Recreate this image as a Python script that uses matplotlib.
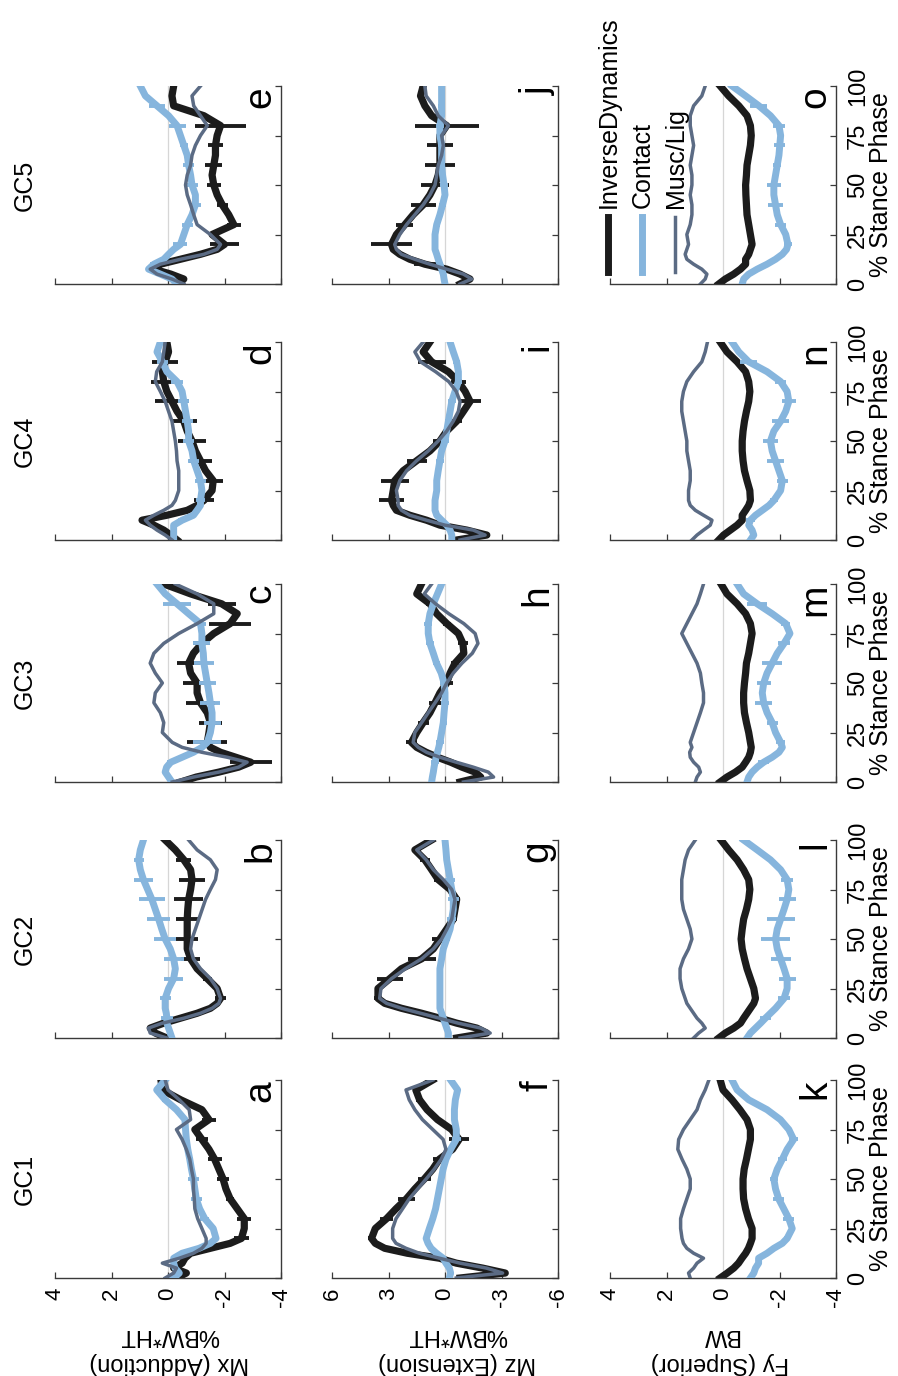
import matplotlib
matplotlib.use('Agg')
import matplotlib.pyplot as plt
from matplotlib.lines import Line2D

plt.rcParams['font.family'] = ['Liberation Sans', 'DejaVu Sans']
plt.rcParams['axes.unicode_minus'] = False

# ---------------- data ----------------
STANCE = [0, 2.5, 5, 7.5, 10, 12.5, 15, 17.5, 20, 25, 30, 35, 40, 45, 50,
          55, 60, 65, 70, 75, 80, 85, 90, 95, 100]
ERR_STANCE = [10, 20, 30, 40, 50, 60, 70, 80, 90]
GROUPS = ['GC1', 'GC2', 'GC3', 'GC4', 'GC5']
QUANTITIES = ['Mx', 'Mz', 'Fy']
QUANTITY_LABELS = ['Mx (Adduction)\n%BW*HT', 'Mz (Extension)\n%BW*HT', 'Fy (Superior)\nBW']
VALUE_TICKS_MX = [4, 2, 0, -2, -4]
VALUE_TICKS_MZ = [6, 3, 0, -3, -6]
VALUE_TICKS_FY = [4, 2, 0, -2, -4]
STANCE_TICKS = [0, 25, 50, 75, 100]
PANEL_LETTERS = {'Mx': ['a', 'b', 'c', 'd', 'e'],
                 'Mz': ['f', 'g', 'h', 'i', 'j'],
                 'Fy': ['k', 'l', 'm', 'n', 'o']}
LEGEND_LABELS = ['InverseDynamics', 'Contact', 'Musc/Lig']

# Mx (Adduction)
MX_GC1_ID = [-0.3, -0.65, -0.2, -0.5, -0.6, -0.8, -1.5, -2.2, -2.6, -2.7, -2.7, -2.45, -2.2, -2.05, -1.95, -1.8, -1.65, -1.45, -1.2, -0.95, -1.45, -1.2, -0.45, 0.2, 0.25]
MX_GC1_CON = [-0.2, -0.4, -0.25, -0.2, -0.2, -0.5, -1.1, -1.5, -1.7, -1.6, -1.3, -1.12, -1.0, -0.95, -0.9, -0.83, -0.77, -0.7, -0.65, -0.62, -0.6, -0.3, 0.1, 0.4, 0.1]
MX_GC1_MUS = [0.1, -0.2, -0.3, 0.2, -0.4, -0.9, -1.2, -1.35, -1.35, -1.2, -1.05, -0.95, -0.93, -0.9, -0.9, -0.83, -0.77, -0.65, -0.5, -0.3, -0.8, -0.75, -0.4, 0.0, 0.1]
MX_GC1_ID_ERR = [0.1, 0.25, 0.25, 0.15, 0.2, 0.25, 0.2, 0.25, 0.1]
MX_GC1_CON_ERR = [0.1, 0.1, 0.15, 0.2, 0.2, 0.1, 0.1, 0.1, 0.1]

MX_GC2_ID = [0.04, 0.45, 0.63, 0.15, -0.44, -1.03, -1.5, -1.74, -1.86, -1.74, -1.39, -1.03, -0.8, -0.68, -0.68, -0.68, -0.68, -0.7, -0.73, -0.8, -0.85, -0.8, -0.56, -0.26, 0.1]
MX_GC2_CON = [-0.14, -0.08, -0.02, 0.04, 0.04, 0.06, 0.1, 0.1, 0.1, -0.02, -0.2, -0.26, -0.2, -0.08, 0.1, 0.22, 0.33, 0.45, 0.57, 0.72, 0.87, 0.98, 1.04, 0.98, 0.87]
MX_GC2_MUS = [0.04, 0.63, 0.69, 0.2, -0.56, -1.15, -1.56, -1.8, -1.86, -1.74, -1.5, -1.15, -0.9, -0.8, -0.85, -0.97, -1.09, -1.21, -1.33, -1.5, -1.68, -1.74, -1.5, -1.03, -0.73]
MX_GC2_ID_ERR = [0.1, 0.2, 0.15, 0.35, 0.38, 0.38, 0.5, 0.45, 0.27]
MX_GC2_CON_ERR = [0.2, 0.2, 0.33, 0.35, 0.38, 0.4, 0.47, 0.35, 0.18]

MX_GC3_ID = [-0.45, -1.0, -1.8, -2.5, -2.93, -2.4, -1.86, -1.5, -1.39, -1.45, -1.5, -1.39, -1.15, -1.03, -1.03, -0.8, -0.73, -0.9, -1.2, -1.62, -2.2, -2.45, -1.9, -0.8, 0.15]
MX_GC3_CON = [-0.14, -0.02, 0.1, 0.05, -0.1, -0.5, -0.9, -1.2, -1.39, -1.5, -1.56, -1.56, -1.5, -1.45, -1.39, -1.33, -1.27, -1.25, -1.2, -1.2, -1.15, -0.73, -0.32, 0.1, 0.39]
MX_GC3_MUS = [-0.15, -0.9, -1.8, -2.5, -2.8, -2.1, -1.2, -0.5, -0.15, 0.2, 0.15, 0.27, 0.5, 0.45, 0.2, 0.45, 0.63, 0.5, 0.15, -0.38, -1.03, -1.62, -1.62, -1.03, -0.26]
MX_GC3_ID_ERR = [0.75, 0.7, 0.4, 0.5, 0.5, 0.4, 0.3, 0.75, 0.5]
MX_GC3_CON_ERR = [0.15, 0.5, 0.3, 0.35, 0.3, 0.35, 0.3, 0.2, 0.5]

MX_GC4_ID = [-0.32, -0.1, 0.15, 0.5, 0.92, 0.04, -0.68, -1.03, -1.27, -1.56, -1.6, -1.33, -1.15, -0.97, -0.85, -0.68, -0.56, -0.32, -0.14, 0.04, 0.15, 0.2, 0.1, -0.02, 0.04]
MX_GC4_CON = [-0.2, -0.2, -0.2, -0.2, -0.5, -0.9, -1.03, -1.15, -1.15, -1.2, -1.15, -1.03, -0.91, -0.85, -0.73, -0.73, -0.68, -0.62, -0.56, -0.5, -0.32, 0.04, 0.2, 0.39, 0.27]
MX_GC4_MUS = [-0.14, 0.1, 0.39, 0.63, 0.8, 0.5, 0.15, -0.14, -0.26, -0.38, -0.38, -0.38, -0.32, -0.3, -0.26, -0.2, -0.14, -0.02, 0.1, 0.27, 0.45, 0.4, 0.2, 0.15, 0.1]
MX_GC4_ID_ERR = [0.1, 0.35, 0.35, 0.4, 0.5, 0.45, 0.6, 0.45, 0.45]
MX_GC4_CON_ERR = [0.15, 0.15, 0.2, 0.2, 0.2, 0.2, 0.2, 0.2, 0.2]

MX_GC5_ID = [-0.38, -0.56, -0.1, 0.5, 0.27, -0.44, -1.15, -1.74, -2.0, -1.56, -2.33, -2.15, -1.92, -1.74, -1.62, -1.56, -1.62, -1.68, -1.68, -1.74, -1.86, -1.27, -0.2, -0.14, -0.2]
MX_GC5_CON = [-0.32, -0.14, 0.27, 0.69, 0.5, 0.15, -0.02, -0.2, -0.44, -0.56, -0.68, -0.85, -0.97, -0.97, -0.85, -0.8, -0.73, -0.68, -0.56, -0.44, -0.32, -0.02, 0.39, 0.8, 0.98]
MX_GC5_MUS = [-0.56, -0.14, 0.39, 0.63, 0.27, -0.44, -1.27, -1.74, -1.86, -1.5, -1.03, -0.91, -0.8, -0.68, -0.62, -0.68, -0.8, -0.85, -0.97, -1.15, -1.39, -1.15, -0.91, -0.85, -1.15]
MX_GC5_ID_ERR = [0.1, 0.5, 0.25, 0.2, 0.25, 0.3, 0.25, 0.9, 0.1]
MX_GC5_CON_ERR = [0.15, 0.25, 0.2, 0.2, 0.2, 0.2, 0.15, 0.3, 0.3]

# Mz (Extension)
MZ_GC1_ID = [-0.8, -3.2, -2.0, -0.6, 0.3, 2.0, 3.2, 3.7, 3.9, 3.7, 3.1, 2.6, 2.05, 1.6, 1.1, 0.65, 0.3, -0.4, -0.75, -0.35, 0.4, 0.95, 1.35, 1.55, 0.65]
MZ_GC1_CON = [-0.23, -0.3, -0.23, -0.05, 0.1, 0.45, 0.74, 0.9, 1.0, 0.83, 0.65, 0.5, 0.4, 0.3, 0.2, 0.1, -0.05, -0.3, -0.6, -0.6, -0.5, -0.5, -0.55, -0.67, -0.3]
MZ_GC1_MUS = [-0.6, -3.06, -2.2, -0.8, 0.3, 1.36, 2.07, 2.6, 2.78, 2.78, 2.6, 2.25, 1.9, 1.45, 1.0, 0.57, 0.2, -0.05, 0.1, 0.65, 1.2, 1.6, 1.9, 2.07, 0.65]
MZ_GC1_ID_ERR = [0.15, 0.2, 0.35, 0.45, 0.35, 0.35, 0.55, 0.15, 0.2]
MZ_GC1_CON_ERR = [0.1, 0.1, 0.1, 0.1, 0.1, 0.15, 0.25, 0.1, 0.1]

MZ_GC2_ID = [-0.62, -2.22, -1.69, -0.62, 0.27, 1.24, 2.31, 3.2, 3.56, 3.56, 2.93, 2.31, 1.24, 0.62, 0.27, -0.09, -0.44, -0.53, -0.62, -0.27, 0.36, 0.71, 1.07, 1.6, 0.71]
MZ_GC2_CON = [-0.18, -0.18, -0.09, 0.0, 0.09, 0.18, 0.27, 0.27, 0.27, 0.27, 0.27, 0.27, 0.18, 0.09, -0.09, -0.27, -0.36, -0.44, -0.44, -0.36, -0.27, -0.18, -0.09, -0.05, 0.0]
MZ_GC2_MUS = [-0.8, -2.4, -1.9, -0.7, 0.3, 1.3, 2.3, 3.1, 3.47, 3.4, 2.84, 2.1, 1.24, 0.62, 0.18, -0.1, -0.36, -0.44, -0.53, -0.36, 0.09, 0.62, 1.0, 1.5, 0.62]
MZ_GC2_ID_ERR = [0.2, 0.2, 0.7, 0.75, 0.4, 0.2, 0.2, 0.25, 0.25]
MZ_GC2_CON_ERR = [0.15, 0.15, 0.15, 0.15, 0.2, 0.25, 0.3, 0.25, 0.15]

MZ_GC3_ID = [-0.8, -1.9, -1.6, -0.9, -0.3, 0.4, 1.0, 1.5, 1.78, 1.5, 1.16, 0.8, 0.53, 0.27, -0.09, -0.27, -0.53, -1.0, -0.95, -0.71, -0.1, 0.44, 0.8, 1.5, 1.25]
MZ_GC3_CON = [0.71, 0.67, 0.62, 0.58, 0.53, 0.47, 0.4, 0.33, 0.27, 0.18, 0.09, 0.05, 0.0, 0.0, 0.05, 0.2, 0.45, 0.62, 0.8, 0.89, 0.89, 0.8, 0.62, 0.4, 0.18]
MZ_GC3_MUS = [-0.98, -2.58, -2.3, -1.5, -0.6, 0.27, 0.98, 1.42, 1.69, 1.6, 1.24, 0.89, 0.53, 0.18, -0.09, -0.44, -0.9, -1.45, -1.75, -1.6, -1.0, -0.2, 0.5, 1.1, 0.71]
MZ_GC3_ID_ERR = [0.3, 0.3, 0.3, 0.3, 0.35, 0.2, 0.25, 0.2, 0.2]
MZ_GC3_CON_ERR = [0.2, 0.2, 0.2, 0.2, 0.2, 0.2, 0.2, 0.2, 0.2]

MZ_GC4_ID = [-0.62, -2.22, -1.16, 0.27, 0.98, 1.87, 2.58, 2.75, 2.84, 2.75, 2.67, 2.22, 1.51, 0.8, 0.27, -0.09, -0.62, -0.98, -1.33, -1.07, -0.71, -0.18, 0.71, 1.16, 0.8]
MZ_GC4_CON = [-0.36, -0.36, -0.27, -0.09, 0.18, 0.44, 0.53, 0.53, 0.53, 0.44, 0.44, 0.36, 0.27, 0.18, 0.0, -0.09, -0.18, -0.27, -0.36, -0.53, -0.71, -0.71, -0.62, -0.44, -0.27]
MZ_GC4_MUS = [-0.8, -2.13, -1.5, 0.0, 0.98, 1.87, 2.31, 2.49, 2.49, 2.58, 2.4, 2.04, 1.51, 0.89, 0.36, -0.09, -0.44, -0.71, -0.8, -0.6, -0.2, 0.5, 1.3, 1.6, 1.16]
MZ_GC4_ID_ERR = [0.2, 0.67, 0.75, 0.53, 0.36, 0.3, 0.58, 0.4, 0.75]
MZ_GC4_CON_ERR = [0.15, 0.15, 0.15, 0.2, 0.2, 0.2, 0.2, 0.2, 0.2]

MZ_GC5_ID = [-0.8, -1.33, -0.8, -0.09, 1.07, 1.87, 2.4, 2.75, 2.84, 2.58, 2.13, 1.69, 1.16, 0.8, 0.53, 0.36, 0.27, 0.27, 0.27, 0.27, -0.09, 0.71, 1.07, 1.3, 1.16]
MZ_GC5_CON = [0.0, 0.05, 0.09, 0.18, 0.27, 0.36, 0.44, 0.53, 0.53, 0.53, 0.44, 0.27, 0.13, 0.0, 0.05, 0.13, 0.18, 0.18, 0.18, 0.27, 0.27, 0.18, 0.18, 0.18, 0.18]
MZ_GC5_MUS = [-0.8, -1.42, -0.98, -0.09, 0.8, 1.6, 2.31, 2.58, 2.67, 2.4, 2.04, 1.6, 1.16, 0.8, 0.53, 0.44, 0.36, 0.18, 0.09, 0.18, -0.18, 0.36, 0.62, 1.0, 1.07]
MZ_GC5_ID_ERR = [0.58, 1.07, 0.45, 0.67, 0.75, 0.8, 0.67, 1.7, 0.1]
MZ_GC5_CON_ERR = [0.15, 0.15, 0.15, 0.2, 0.2, 0.2, 0.2, 0.2, 0.2]

# Fy (Superior)
FY_GC1_ID = [0.1, -0.15, -0.38, -0.55, -0.67, -0.8, -0.9, -0.97, -1.03, -1.03, -0.9, -0.8, -0.73, -0.71, -0.71, -0.75, -0.83, -0.9, -0.97, -0.97, -0.85, -0.6, -0.32, 0.0, 0.1]
FY_GC1_CON = [-0.97, -1.09, -1.15, -1.26, -1.26, -1.56, -1.8, -2.1, -2.27, -2.45, -2.33, -2.15, -1.97, -1.86, -1.8, -1.92, -2.1, -2.27, -2.5, -2.33, -2.03, -1.56, -0.91, -0.5, -0.32]
FY_GC1_MUS = [1.16, 1.22, 1.04, 0.92, 0.69, 1.04, 1.28, 1.4, 1.45, 1.5, 1.5, 1.4, 1.28, 1.16, 1.16, 1.28, 1.45, 1.6, 1.57, 1.4, 1.16, 0.92, 0.8, 0.63, 0.5]
FY_GC1_CON_ERR = [0.1, 0.1, 0.2, 0.2, 0.15, 0.15, 0.15, 0.1, 0.1]

FY_GC2_ID = [0.15, -0.08, -0.38, -0.62, -0.73, -0.85, -0.97, -1.09, -1.15, -1.09, -0.97, -0.85, -0.76, -0.68, -0.64, -0.68, -0.73, -0.83, -0.91, -0.95, -0.91, -0.73, -0.5, -0.2, 0.07]
FY_GC2_CON = [-0.85, -0.97, -1.15, -1.33, -1.5, -1.68, -1.86, -2.01, -2.16, -2.27, -2.27, -2.16, -2.04, -1.92, -1.86, -1.92, -2.04, -2.16, -2.27, -2.33, -2.27, -2.04, -1.68, -1.21, -0.73]
FY_GC2_MUS = [1.04, 0.86, 0.63, 0.75, 0.92, 1.04, 1.16, 1.28, 1.34, 1.46, 1.52, 1.52, 1.4, 1.22, 1.1, 1.16, 1.28, 1.4, 1.46, 1.46, 1.46, 1.4, 1.34, 1.22, 0.98]
FY_GC2_CON_ERR = [0.2, 0.2, 0.3, 0.35, 0.5, 0.5, 0.3, 0.2, 0.1]

FY_GC3_ID = [0.1, -0.14, -0.44, -0.68, -0.8, -0.91, -0.97, -1.0, -0.97, -0.91, -0.83, -0.76, -0.73, -0.73, -0.76, -0.8, -0.83, -0.91, -0.97, -1.03, -0.97, -0.8, -0.5, -0.14, 0.07]
FY_GC3_CON = [-0.85, -0.91, -1.03, -1.21, -1.44, -1.74, -1.98, -2.1, -2.04, -1.86, -1.74, -1.56, -1.44, -1.39, -1.44, -1.56, -1.74, -1.92, -2.16, -2.37, -2.22, -1.74, -1.21, -0.73, -0.5]
FY_GC3_MUS = [0.98, 0.92, 0.8, 0.86, 1.04, 1.16, 1.18, 1.1, 1.16, 1.04, 0.92, 0.8, 0.69, 0.69, 0.75, 0.8, 0.92, 1.1, 1.28, 1.46, 1.28, 1.1, 0.92, 0.8, 0.69]
FY_GC3_CON_ERR = [0.2, 0.15, 0.2, 0.3, 0.25, 0.35, 0.2, 0.15, 0.35]

FY_GC4_ID = [0.15, -0.02, -0.26, -0.5, -0.68, -0.68, -0.8, -0.91, -0.97, -0.95, -0.85, -0.76, -0.71, -0.68, -0.68, -0.71, -0.76, -0.83, -0.91, -0.95, -0.91, -0.8, -0.5, -0.14, 0.1]
FY_GC4_CON = [-0.97, -1.09, -1.03, -0.91, -0.97, -1.15, -1.39, -1.63, -1.8, -2.04, -2.1, -1.98, -1.86, -1.74, -1.68, -1.8, -2.04, -2.22, -2.33, -2.27, -2.04, -1.56, -0.91, -0.56, -0.32]
FY_GC4_MUS = [1.1, 0.92, 0.69, 0.45, 0.39, 0.69, 0.98, 1.16, 1.22, 1.22, 1.16, 1.16, 1.22, 1.28, 1.28, 1.34, 1.4, 1.46, 1.46, 1.4, 1.28, 1.04, 0.75, 0.63, 0.55]
FY_GC4_CON_ERR = [0.15, 0.15, 0.2, 0.3, 0.25, 0.3, 0.25, 0.2, 0.3]

FY_GC5_ID = [0.15, -0.08, -0.38, -0.62, -0.8, -0.8, -0.91, -0.97, -1.03, -0.97, -0.91, -0.85, -0.83, -0.81, -0.8, -0.83, -0.85, -0.91, -0.97, -1.0, -0.97, -0.85, -0.56, -0.2, 0.1]
FY_GC5_CON = [-0.68, -0.73, -0.91, -1.21, -1.56, -1.86, -2.1, -2.25, -2.3, -2.22, -2.04, -1.92, -1.86, -1.8, -1.8, -1.86, -1.92, -1.98, -2.01, -2.04, -1.98, -1.68, -1.27, -0.8, -0.32]
FY_GC5_MUS = [0.8, 0.63, 0.57, 0.75, 1.04, 1.28, 1.34, 1.28, 1.22, 1.28, 1.16, 1.1, 1.1, 1.16, 1.1, 1.1, 1.16, 1.1, 1.04, 1.1, 1.16, 1.16, 1.04, 0.75, 0.63]
FY_GC5_CON_ERR = [0.1, 0.15, 0.2, 0.25, 0.25, 0.15, 0.2, 0.2, 0.3]

SERIES = {
    ('Mx', 'GC1'): (MX_GC1_ID, MX_GC1_CON, MX_GC1_MUS, MX_GC1_ID_ERR, MX_GC1_CON_ERR),
    ('Mx', 'GC2'): (MX_GC2_ID, MX_GC2_CON, MX_GC2_MUS, MX_GC2_ID_ERR, MX_GC2_CON_ERR),
    ('Mx', 'GC3'): (MX_GC3_ID, MX_GC3_CON, MX_GC3_MUS, MX_GC3_ID_ERR, MX_GC3_CON_ERR),
    ('Mx', 'GC4'): (MX_GC4_ID, MX_GC4_CON, MX_GC4_MUS, MX_GC4_ID_ERR, MX_GC4_CON_ERR),
    ('Mx', 'GC5'): (MX_GC5_ID, MX_GC5_CON, MX_GC5_MUS, MX_GC5_ID_ERR, MX_GC5_CON_ERR),
    ('Mz', 'GC1'): (MZ_GC1_ID, MZ_GC1_CON, MZ_GC1_MUS, MZ_GC1_ID_ERR, MZ_GC1_CON_ERR),
    ('Mz', 'GC2'): (MZ_GC2_ID, MZ_GC2_CON, MZ_GC2_MUS, MZ_GC2_ID_ERR, MZ_GC2_CON_ERR),
    ('Mz', 'GC3'): (MZ_GC3_ID, MZ_GC3_CON, MZ_GC3_MUS, MZ_GC3_ID_ERR, MZ_GC3_CON_ERR),
    ('Mz', 'GC4'): (MZ_GC4_ID, MZ_GC4_CON, MZ_GC4_MUS, MZ_GC4_ID_ERR, MZ_GC4_CON_ERR),
    ('Mz', 'GC5'): (MZ_GC5_ID, MZ_GC5_CON, MZ_GC5_MUS, MZ_GC5_ID_ERR, MZ_GC5_CON_ERR),
    ('Fy', 'GC1'): (FY_GC1_ID, FY_GC1_CON, FY_GC1_MUS, None, FY_GC1_CON_ERR),
    ('Fy', 'GC2'): (FY_GC2_ID, FY_GC2_CON, FY_GC2_MUS, None, FY_GC2_CON_ERR),
    ('Fy', 'GC3'): (FY_GC3_ID, FY_GC3_CON, FY_GC3_MUS, None, FY_GC3_CON_ERR),
    ('Fy', 'GC4'): (FY_GC4_ID, FY_GC4_CON, FY_GC4_MUS, None, FY_GC4_CON_ERR),
    ('Fy', 'GC5'): (FY_GC5_ID, FY_GC5_CON, FY_GC5_MUS, None, FY_GC5_CON_ERR),
}
VALUE_TICKS = {'Mx': VALUE_TICKS_MX, 'Mz': VALUE_TICKS_MZ, 'Fy': VALUE_TICKS_FY}

# ---------------- style / layout ----------------
W, H = 898, 1376
C_ID = '#1c1c1c'
C_CON = '#86b5dd'
C_MUS = '#5b6b84'
C_SPINE = '#3a3a3a'
C_ZERO = '#d6d6d6'

BAND_PX = {'GC1': (1080, 1278), 'GC2': (840, 1038), 'GC3': (584, 782),
           'GC4': (342, 540), 'GC5': (86, 284)}
COL_PX = {'Mx': (55, 281), 'Mz': (332, 558), 'Fy': (610, 836)}
LABEL_X = {'Mx': 169, 'Mz': 457, 'Fy': 720}

fig = plt.figure(figsize=(W / 100, H / 100), dpi=100)


def err_points(vals):
    return [vals[STANCE.index(s)] for s in ERR_STANCE]


for q in QUANTITIES:
    ticks = VALUE_TICKS[q]
    lim = ticks[0]
    for gi, g in enumerate(GROUPS):
        x0, x1 = COL_PX[q]
        y0, y1 = BAND_PX[g]
        ax = fig.add_axes([x0 / W, 1 - y1 / H, (x1 - x0) / W, (y1 - y0) / H])
        ax.set_xlim(lim, -lim)
        ax.set_ylim(0, 100)
        ax.axvline(0, color=C_ZERO, lw=0.9, zorder=0)
        id_v, con_v, mus_v, id_e, con_e = SERIES[(q, g)]
        ax.plot(id_v, STANCE, color=C_ID, lw=5.2, zorder=2, solid_joinstyle='round')
        if id_e is not None:
            ax.errorbar(err_points(id_v), ERR_STANCE, xerr=id_e, fmt='none',
                        ecolor=C_ID, elinewidth=2.8, capsize=0, zorder=2)
        ax.plot(con_v, STANCE, color=C_CON, lw=5, zorder=3, solid_joinstyle='round')
        ax.errorbar(err_points(con_v), ERR_STANCE, xerr=con_e, fmt='none',
                    ecolor=C_CON, elinewidth=2.8, capsize=0, zorder=3)
        ax.plot(mus_v, STANCE, color=C_MUS, lw=2.5, zorder=4, solid_joinstyle='round')

        for s in ['top', 'left']:
            ax.spines[s].set_visible(False)
        for s in ['bottom', 'right']:
            ax.spines[s].set_color(C_SPINE)
            ax.spines[s].set_linewidth(1.0)
        ax.set_xticks(ticks)
        ax.set_xticklabels([str(t) for t in ticks])
        ax.set_yticks(STANCE_TICKS)
        ax.set_yticklabels([str(t) for t in STANCE_TICKS])
        ax.yaxis.tick_right()
        ax.tick_params(axis='x', direction='in', length=4, width=0.9, color=C_SPINE,
                       labelbottom=(g == 'GC1'), labelrotation=90, labelsize=16, pad=7)
        ax.tick_params(axis='y', direction='in', length=4, width=0.9, color=C_SPINE,
                       labelright=(q == 'Fy'), labelleft=False, labelrotation=90,
                       labelsize=17, pad=8)
        for t in ax.get_yticklabels():
            t.set_va('center')
        ax.text(0.99, 1.0, PANEL_LETTERS[q][gi], transform=ax.transAxes,
                rotation=90, ha='right', va='top', fontsize=28)

# group titles and stance labels
for g in GROUPS:
    y0, y1 = BAND_PX[g]
    yc = 1 - (y0 + y1) / 2 / H
    fig.text(25 / W, yc, g, rotation=90, ha='center', va='center', fontsize=18)
    fig.text(881 / W, yc, '% Stance Phase', rotation=90, ha='center', va='center',
             fontsize=18)

# quantity labels (upside down)
for q, lab in zip(QUANTITIES, QUANTITY_LABELS):
    fig.text(LABEL_X[q] / W, 1 - 1349 / H, lab, rotation=180, ha='center',
             va='center', fontsize=17, linespacing=1.3, multialignment='center')

# legend (rotated)
LEG_X = [608, 642, 675]
LEG_COLORS = [C_ID, C_CON, C_MUS]
LEG_LW = [5, 5, 2.5]
for x, lab, c, lw in zip(LEG_X, LEGEND_LABELS, LEG_COLORS, LEG_LW):
    fig.add_artist(Line2D([x / W, x / W], [1 - 272 / H, 1 - 217 / H],
                          transform=fig.transFigure, color=c, lw=lw))
    fig.text((x + 1) / W, 1 - 208 / H, lab, rotation=90, ha='center', va='bottom',
             fontsize=18)

fig.savefig('out.png', dpi=100)
